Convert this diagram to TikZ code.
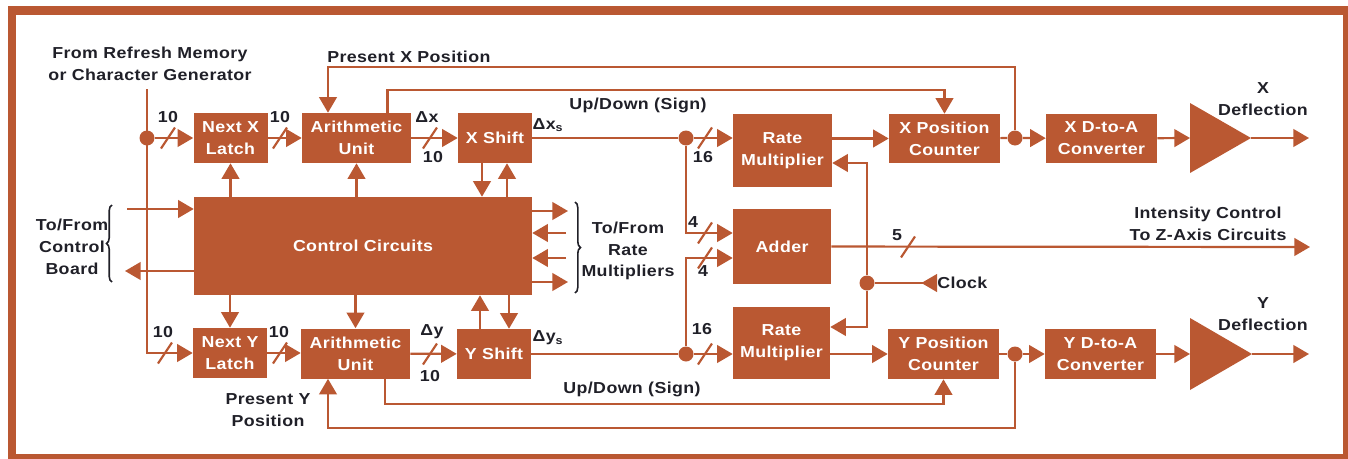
\documentclass[tikz,border=0pt]{standalone}
\usepackage{fontspec}
\setmainfont{Liberation Sans}[FakeStretch=1.12,LetterSpace=2.5]
\usetikzlibrary{arrows.meta,calc,decorations.pathreplacing}
\definecolor{rust}{RGB}{186,88,50}
\definecolor{ink}{RGB}{32,32,40}
\def\busmark(#1){\draw[wire] ($(#1)+(-7,10.5)$) -- ($(#1)+(7,-10.5)$);}
\tikzset{
  wire/.style={draw=rust, line width=0.55mm},
  arr/.style={wire, -{Triangle[length=3.9mm,width=4.4mm]}},
  blk/.style 2 args={fill=rust, text=white, align=center, inner sep=0pt,
    minimum width=#1*0.25mm, minimum height=#2*0.25mm,
    font=\fontsize{11.3}{15.5}\selectfont\bfseries},
  lbl/.style={text=ink, align=center, inner sep=0pt,
    font=\fontsize{11.3}{15.5}\selectfont\bfseries},
  dot/.style={circle, fill=rust, inner sep=0pt, minimum size=3.75mm},
  brc/.style={draw=ink, line width=0.4mm, decorate, decoration={brace, amplitude=1.4mm}},
}
\begin{document}
\begin{tikzpicture}[x=0.25mm, y=-0.25mm]
		%%%%% FRAME %%%%%
		\useasboundingbox (0,0) rectangle (1348,459);
		\draw[rust, line width=2.125mm] (12,10.5) rectangle (1347,458);
		
		%%%%% BLOCKS %%%%%
		\node[blk={74}{50}] (nxl) at (230.5,138) {Next X\\Latch};
		\node[blk={109}{50}] (aux) at (356.5,138) {Arithmetic\\Unit};
		\node[blk={74}{50}] (xsh) at (495,138) {X Shift};
		\node[blk={99}{73}] (rmx) at (782.5,150.5) {Rate\\Multiplier};
		\node[blk={111}{49}] (xpc) at (944.5,138.5) {X Position\\Counter};
		\node[blk={111}{49}] (xda) at (1101.5,138.5) {X D-to-A\\Converter};
		
		\node[blk={338}{98}] (ctl) at (363,246) {Control Circuits};
		\node[blk={98}{75}] (add) at (782,246.5) {Adder};
		
		\node[blk={74}{50}] (nyl) at (230,353) {Next Y\\Latch};
		\node[blk={109}{50}] (auy) at (355.5,353.5) {Arithmetic\\Unit};
		\node[blk={74}{50}] (ysh) at (494,354) {Y Shift};
		\node[blk={97}{72}] (rmy) at (781.5,343) {Rate\\Multiplier};
		\node[blk={111}{50}] (ypc) at (943.5,354) {Y Position\\Counter};
		\node[blk={111}{50}] (yda) at (1100.5,354) {Y D-to-A\\Converter};
		
		% amplifiers
		\coordinate (txb) at (1190,138);
		\coordinate (txa) at (1251,138);
		\fill[rust] (1190,103) -- (txa) -- (1190,173) -- cycle;
		\coordinate (tyb) at (1190,354);
		\coordinate (tya) at (1252,354);
		\fill[rust] (1190,318) -- (tya) -- (1190,390) -- cycle;
		
		%%%%% DOTS %%%%%
		\node[dot] (din) at (147,138) {};
		\node[dot] (dx) at (686,138) {};
		\node[dot] (dy) at (686,354) {};
		\node[dot] (xo) at (1015,138) {};
		\node[dot] (yo) at (1015,354) {};
		\node[dot] (ckd) at (867,283) {};
		
		%%%%% LABELS %%%%%
		\node[lbl] (src) at (150,63.5) {From Refresh Memory\\or Character Generator};
		\node[lbl, anchor=west] (pxl) at (327,57) {Present X Position};
		\node[lbl] (udxl) at (638,105) {Up/Down (Sign)};
		\node[lbl] (udyl) at (632,389) {Up/Down (Sign)};
		\node[lbl] (pyl) at (268,410.5) {Present Y\\Position};
		\node[lbl] (cbl) at (72,247) {To/From\\Control\\Board};
		\node[lbl] (rml) at (628,251) {To/From\\Rate\\Multipliers};
		\node[lbl] (xdl) at (1263,99.5) {X\\Deflection};
		\node[lbl] (ydl) at (1263,314) {Y\\Deflection};
		\node[lbl] (zl) at (1208,223.5) {Intensity Control\\To Z-Axis Circuits};
		\node[lbl, anchor=west] (clk) at (937,283) {Clock};
		
		\node[lbl] (wx1) at (168,117) {10};
		\node[lbl] (wx2) at (280,117) {10};
		\node[lbl] (wx3) at (433,157) {10};
		\node[lbl] (dlx) at (427,117) {Δx};
		\node[lbl] (dlxs) at (548,125) {Δx\textsubscript{s}};
		\node[lbl] (wx4) at (703,157) {16};
		\node[lbl] (wa1) at (693,222) {4};
		\node[lbl] (wa2) at (703,271) {4};
		\node[lbl] (wz) at (897,235) {5};
		\node[lbl] (wy1) at (163,332) {10};
		\node[lbl] (wy2) at (279,332) {10};
		\node[lbl] (wy3) at (430,376) {10};
		\node[lbl] (dly) at (432,332) {Δy};
		\node[lbl] (dlys) at (548,338) {Δy\textsubscript{s}};
		\node[lbl] (wy4) at (702,329) {16};
		
		%%%%% X PATH %%%%%
		\coordinate (inT) at (147,89);
		\draw[arr] (inT) |- (nyl.west);
		\draw[arr] (din) -- (nxl);
		\draw[arr] (nxl) -- (aux);
		\draw[arr] (aux) -- (xsh);
		\draw[wire] (xsh) -- (dx);
		\draw[arr] (dx) -- (dx -| rmx.west);
		\draw[arr] (xpc -| rmx.east) -- (xpc);
		\draw[wire] (xpc) -- (xo);
		\draw[arr] (xo) -- (xda);
		\draw[arr] (xda) -- (txb);
		\draw[arr] (txa) -- ++(58,0) coordinate (xout);
		\busmark(168,138)
		\busmark(280,138)
		\busmark(430,138)
		\busmark(705,138)
		
		% feedback and sign
		\coordinate (pxc) at (328,67);
		\draw[arr] (xo) |- (pxc) -- (pxc |- aux.north);
		\draw[arr] ($(aux.north)+(31,0)$) -- ++(0,-23) -| (xpc.north);
		
		%%%%% Y PATH %%%%%
		\draw[arr] (nyl) -- (auy.west |- nyl);
		\draw[arr] (auy) -- (ysh);
		\draw[wire] (ysh) -- (dy);
		\draw[arr] (dy) -- (dy -| rmy.west);
		\draw[arr] (ypc -| rmy.east) -- (ypc);
		\draw[wire] (ypc) -- (yo);
		\draw[arr] (yo) -- (yda);
		\draw[arr] (yda) -- (tyb);
		\draw[arr] (tya) -- ++(57,0) coordinate (yout);
		\busmark(165,353)
		\busmark(280,353)
		\busmark(430,354)
		\busmark(705,354)
		
		\coordinate (pyc) at (328,428);
		\draw[arr] (yo) |- (pyc) -- (pyc |- auy.south);
		\draw[arr] ($(auy.south)+(29.5,0)$) -- ++(0,25) -| (ypc.south);
		
		%%%%% ADDER AND CLOCK %%%%%
		\draw[arr] (dx) |- ($(add.west)+(0,-13.5)$);
		\draw[arr] (dy) |- ($(add.west)+(0,11.5)$);
		\busmark(705,233)
		\busmark(705,258)
		\coordinate (zout) at (1310,247);
		\draw[arr] (add) -- (zout);
		\busmark(908,247)
		\draw[arr] (ckd) |- ($(rmx.east)+(0,12.5)$);
		\draw[arr] (ckd) |- ($(rmy.east)+(0,-16)$);
		\draw[wire, {Triangle[reversed,length=3.9mm,width=4.4mm]}-] (clk.west) -- (ckd);
		
		%%%%% CONTROL %%%%%
		\coordinate (cbi) at (127,209);
		\coordinate (cbo) at (125,271);
		\draw[arr] (cbi) -- (cbi -| ctl.west);
		\draw[arr] (cbo -| ctl.west) -- (cbo);
		\coordinate (rm1) at (568,211);
		\coordinate (rm2) at (566,233);
		\coordinate (rm3) at (566,258);
		\coordinate (rm4) at (568,282);
		\draw[arr] (rm1 -| ctl.east) -- (rm1);
		\draw[arr] (rm2) -- (rm2 -| ctl.east);
		\draw[arr] (rm3) -- (rm3 -| ctl.east);
		\draw[arr] (rm4 -| ctl.east) -- (rm4);
		
		\draw[arr] (nxl.south |- ctl.north) -- (nxl.south);
		\draw[arr] (aux.south |- ctl.north) -- (aux.south);
		\draw[arr] ($(xsh.south)+(-13,0)$) -- ($(xsh.south |- ctl.north)+(-13,0)$);
		\draw[arr] ($(xsh.south |- ctl.north)+(12,0)$) -- ($(xsh.south)+(12,0)$);
		\draw[arr] (nyl.north |- ctl.south) -- (nyl.north);
		\draw[arr] (auy.north |- ctl.south) -- (auy.north);
		\draw[arr] ($(ysh.north)+(-14,0)$) -- ($(ysh.north |- ctl.south)+(-14,0)$);
		\draw[arr] ($(ysh.north |- ctl.south)+(15,0)$) -- ($(ysh.north)+(15,0)$);
		
		% braces
		\draw[brc] (112,282) -- (112,205);
		\draw[brc] (575,202) -- (575,293);
		
		%%%%% END %%%%%
\end{tikzpicture}
\end{document}
